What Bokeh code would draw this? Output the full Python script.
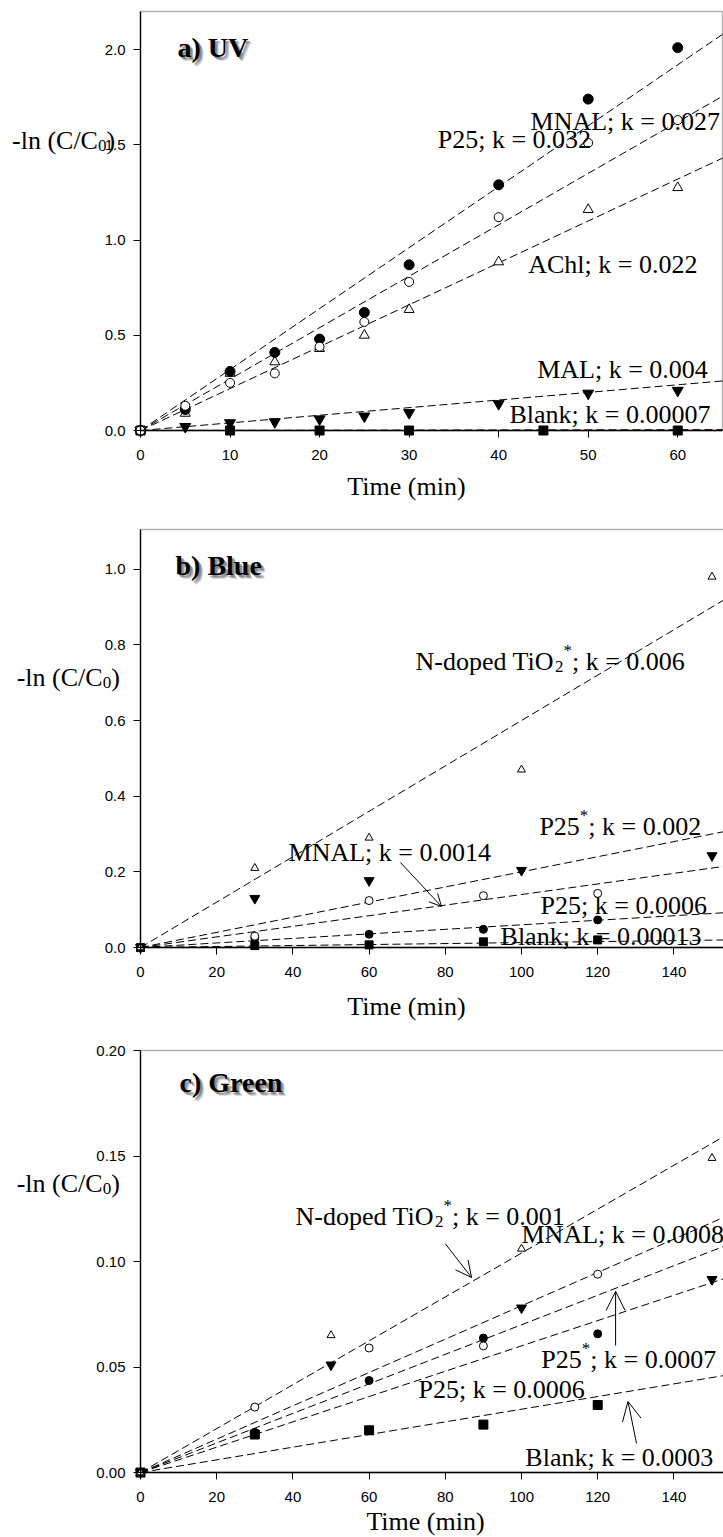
from bokeh.plotting import figure
from bokeh.layouts import column
from bokeh.models import Label, Arrow, OpenHead, FixedTicker, Range1d, BoxAnnotation, PrintfTickFormatter
from bokeh.embed import file_html
from bokeh.resources import INLINE

# ---------------- data ----------------
# panel a) UV
ta = [0, 5, 10, 15, 20, 25, 30, 40, 50, 60]
a_p25 = [0, 0.11, 0.31, 0.41, 0.48, 0.62, 0.87, 1.29, 1.74, 2.01]
a_mnal = [0, 0.13, 0.25, 0.30, 0.44, 0.57, 0.78, 1.12, 1.51, 1.63]
a_achl = [0, 0.09, 0.30, 0.36, 0.43, 0.50, 0.635, 0.885, 1.16, 1.275]
a_mal = [0, 0.02, 0.04, 0.045, 0.06, 0.075, 0.093, 0.14, 0.195, 0.21]
ta_blank = [0, 10, 20, 30, 45, 60]
a_blank = [0, 0, 0, 0, 0, 0]
a_k = {"P25": 0.032, "MNAL": 0.027, "AChl": 0.022, "MAL": 0.004, "Blank": 0.00007}

# panel b) Blue
tb_nd = [0, 30, 60, 100, 150]
b_nd = [0, 0.21, 0.29, 0.47, 0.98]
tb_p25s = [0, 30, 60, 100, 150]
b_p25s = [0, 0.13, 0.177, 0.204, 0.243]
tb_mnal = [0, 30, 60, 90, 120]
b_mnal = [0, 0.03, 0.124, 0.137, 0.143]
tb_p25 = [0, 30, 60, 90, 120]
b_p25 = [0, 0.025, 0.035, 0.048, 0.073]
tb_blank = [0, 30, 60, 90, 120]
b_blank = [0, 0.005, 0.007, 0.015, 0.02]
b_k = {"ND": 0.006, "P25s": 0.002, "MNAL": 0.0014, "P25": 0.0006, "Blank": 0.00013}

# panel c) Green
tc_nd = [0, 50, 100, 150]
c_nd = [0, 0.065, 0.106, 0.149]
tc_p25s = [0, 50, 100, 150]
c_p25s = [0, 0.051, 0.078, 0.0915]
tc_mnal = [0, 30, 60, 90, 120]
c_mnal = [0, 0.031, 0.059, 0.060, 0.094]
tc_p25 = [0, 30, 60, 90, 120]
c_p25 = [0, 0.019, 0.0436, 0.0637, 0.0657]
tc_blank = [0, 30, 60, 90, 120]
c_blank = [0, 0.018, 0.020, 0.0227, 0.032]
c_k = {"ND": 0.00104, "MNAL": 0.00079, "P25s": 0.00070, "P25": 0.00060, "Blank": 0.00030}

x_ticks_a = [0, 10, 20, 30, 40, 50, 60]
x_ticks_bc = [0, 20, 40, 60, 80, 100, 120, 140]
y_ticks_a = [0.0, 0.5, 1.0, 1.5, 2.0]
y_ticks_b = [0.0, 0.2, 0.4, 0.6, 0.8, 1.0]
y_ticks_c = [0.00, 0.05, 0.10, 0.15, 0.20]

# ---------------- helpers ----------------
SERIF = "Liberation Serif"
SANS = "Liberation Sans"
FS = 26
LIFT = 7  # px: raise texts so that their visual centre sits where measured
W = {' ': 0.25, '(': 0.333, ')': 0.333, '*': 0.5, '-': 0.333, '.': 0.25, '/': 0.278, ';': 0.278,
     '=': 0.564, 'A': 0.722, 'B': 0.667, 'C': 0.667, 'L': 0.611, 'M': 0.889, 'N': 0.722, 'O': 0.722,
     'P': 0.556, 'T': 0.611, 'a': 0.444, 'd': 0.5, 'e': 0.444, 'h': 0.5, 'i': 0.278, 'k': 0.5,
     'l': 0.278, 'n': 0.5, 'o': 0.5, 'p': 0.5, 'm': 0.778}


def tw(s, fs):
    return sum(W.get(c, 0.5) for c in s) * fs


def rich(p, x, y, segs, ppy, fs=FS):
    off = 0.0
    for text, kind in segs:
        f = fs if kind == "n" else round(fs * 0.65)
        dy = LIFT + (0 if kind == "n" else (-5 if kind == "sub" else 11))
        p.add_layout(Label(x=x, y=y + dy / ppy, x_offset=off, text=text, text_font=SERIF,
                           text_font_size=f"{f}px", text_baseline="alphabetic",
                           text_align="left", text_color="black"))
        off += tw(text, f)


def title(p, x, y, text, ppy):
    y = y + (LIFT + 1) / ppy
    for dx, dyp, a in [(4, 4, 0.25), (3, 3, 0.45), (2, 2, 0.6)]:
        p.add_layout(Label(x=x, y=y - dyp / ppy, x_offset=dx, text=text, text_font=SERIF,
                           text_font_style="bold", text_font_size="28px",
                           text_baseline="alphabetic", text_color="#707070", text_alpha=a))
    p.add_layout(Label(x=x, y=y, text=text, text_font=SERIF, text_font_style="bold",
                       text_font_size="28px", text_baseline="alphabetic", text_color="black"))


def centered(p, x, y, text, ppy):
    p.add_layout(Label(x=x, y=y + LIFT / ppy, text=text, text_font=SERIF,
                       text_font_size=f"{FS}px", text_baseline="alphabetic",
                       text_align="center", text_color="black"))


def arrow(p, x0, y0, x1, y1, size=16):
    p.add_layout(Arrow(end=OpenHead(size=size, line_width=1, line_color="black"),
                       x_start=x0, y_start=y0, x_end=x1, y_end=y1,
                       line_width=1, line_color="black"))


def make_fig(h, zero_py, ppx, ppy, xmax, ymax, box_right, xticks, yticks, yfmt):
    # the whole canvas is the frame; axes are pinned at the data origin
    x0 = -140 / ppx
    x1 = (723 - 140) / ppx
    y0 = (zero_py - h) / ppy
    y1 = zero_py / ppy
    p = figure(width=723, height=h, output_backend="svg", toolbar_location=None,
               x_range=Range1d(x0, x1), y_range=Range1d(y0, y1),
               min_border_left=0, min_border_right=0, min_border_top=0, min_border_bottom=0)
    p.xgrid.visible = False
    p.ygrid.visible = False
    p.outline_line_color = None
    p.background_fill_color = "white"
    p.border_fill_color = "white"
    p.add_layout(BoxAnnotation(left=0, right=box_right, bottom=0, top=ymax,
                               fill_alpha=0, line_color="black", line_width=1.5))
    for ax in (p.xaxis[0], p.yaxis[0]):
        ax.fixed_location = 0
        ax.axis_line_color = "black"
        ax.axis_line_width = 1.3
        ax.major_tick_in = 0
        ax.major_tick_out = 7
        ax.major_tick_line_color = "black"
        ax.minor_tick_in = 0
        ax.minor_tick_out = 0
        ax.major_label_text_font = SANS
        ax.major_label_text_font_size = "15px"
        ax.major_label_text_color = "black"
    p.xaxis.bounds = (0, xmax)
    p.yaxis.bounds = (0, ymax)
    p.xaxis.ticker = FixedTicker(ticks=xticks)
    p.xaxis.formatter = PrintfTickFormatter(format="%d")
    p.xaxis.major_label_standoff = 12
    p.yaxis.ticker = FixedTicker(ticks=yticks)
    p.yaxis.formatter = PrintfTickFormatter(format=yfmt)
    p.yaxis.major_label_standoff = 8
    return p


def fit(p, k, xend):
    p.line([0, xend], [0, k * xend], line_color="black", line_width=1, line_dash="8 4")


def pts(p, x, y, marker, filled, size):
    p.scatter(x, y, marker=marker, size=size, line_color="black", line_width=1,
              fill_color="black" if filled else "white")


# ---------------- panel a ----------------
PXA, PPA = 582 / 65.0, 419 / 2.2
XA, YA = 65.0, 2.2
pa = make_fig(510, 430, PXA, PPA, XA, YA, XA, x_ticks_a, y_ticks_a, "%.1f")
for k in a_k.values():
    fit(pa, k, XA)
pts(pa, ta_blank, a_blank, "square", True, 9)
pts(pa, ta, a_mal, "inverted_triangle", True, 11)
pts(pa, ta, a_achl, "triangle", False, 10)
pts(pa, ta, a_p25, "circle", True, 10)
pts(pa, ta, a_mnal, "circle", False, 9)
title(pa, 4.13, 1.969, "a) UV", PPA)
rich(pa, -14.35, 1.488, [("-ln (C/C", "n"), ("0", "sub"), (")", "n")], PPA)
rich(pa, 33.2, 1.491, [("P25; k = 0.032", "n")], PPA)
rich(pa, 43.56, 1.586, [("MNAL; k = 0.027", "n")], PPA)
rich(pa, 43.3, 0.835, [("AChl; k = 0.022", "n")], PPA)
rich(pa, 44.3, 0.283, [("MAL; k = 0.004", "n")], PPA)
rich(pa, 41.2, 0.047, [("Blank; k = 0.00007", "n")], PPA)
centered(pa, 29.7, -0.331, "Time (min)", PPA)

# ---------------- panel b ----------------
PXB, PPB = 3.81, 418 / 1.105
XB, YB = 583 / 3.81, 1.105
pb = make_fig(520, 437, PXB, PPB, XB + 1, YB, 400, x_ticks_bc, y_ticks_b, "%.1f")
for k in b_k.values():
    fit(pb, k, XB + 1)
pts(pb, tb_blank, b_blank, "square", True, 8)
pts(pb, tb_p25, b_p25, "circle", True, 8)
pts(pb, tb_mnal, b_mnal, "circle", False, 8)
pts(pb, tb_p25s, b_p25s, "inverted_triangle", True, 10)
pts(pb, tb_nd, b_nd, "triangle", False, 8)
title(pb, 9.19, 0.989, "b) Blue", PPB)
rich(pb, -32.5, 0.696, [("-ln (C/C", "n"), ("0", "sub"), (")", "n")], PPB)
rich(pb, 72.2, 0.738, [("N-doped TiO", "n"), ("2", "sub"), ("*", "sup"), ("; k = 0.006", "n")], PPB)
rich(pb, 104.7, 0.3016, [("P25", "n"), ("*", "sup"), ("; k = 0.002", "n")], PPB)
rich(pb, 38.85, 0.233, [("MNAL; k = 0.0014", "n")], PPB)
arrow(pb, 68.2, 0.2249, 79.0, 0.1085, 12)
rich(pb, 105.0, 0.0926, [("P25; k = 0.0006", "n")], PPB)
rich(pb, 94.5, 0.0106, [("Blank; k = 0.00013", "n")], PPB)
centered(pb, 69.8, -0.1745, "Time (min)", PPB)

# ---------------- panel c ----------------
PXC, PPC = 3.81, 422 / 0.20
XC, YC = 583 / 3.81, 0.20
pc = make_fig(507, 442, PXC, PPC, XC + 1, YC, 400, x_ticks_bc, y_ticks_c, "%.2f")
for k in c_k.values():
    fit(pc, k, XC + 1)
pts(pc, tc_blank, c_blank, "square", True, 9)
pts(pc, tc_p25, c_p25, "circle", True, 8)
pts(pc, tc_mnal, c_mnal, "circle", False, 8)
pts(pc, tc_p25s, c_p25s, "inverted_triangle", True, 10)
pts(pc, tc_nd, c_nd, "triangle", False, 8)
title(pc, 10.24, 0.181, "c) Green", PPC)
rich(pc, -32.5, 0.1336, [("-ln (C/C", "n"), ("0", "sub"), (")", "n")], PPC)
rich(pc, 40.7, 0.118, [("N-doped TiO", "n"), ("2", "sub"), ("*", "sup"), ("; k = 0.001", "n")], PPC)
arrow(pc, 79.97, 0.1085, 86.9, 0.0924, 16)
rich(pc, 100.0, 0.1095, [("MNAL; k = 0.0008", "n")], PPC)
rich(pc, 105.2, 0.0502, [("P25", "n"), ("*", "sup"), ("; k = 0.0007", "n")], PPC)
arrow(pc, 124.7, 0.0602, 124.7, 0.0858, 19)
rich(pc, 72.97, 0.036, [("P25; k = 0.0006", "n")], PPC)
rich(pc, 101.0, 0.0038, [("Blank; k = 0.0003", "n")], PPC)
arrow(pc, 130.2, 0.01374, 127.95, 0.03365, 19)
centered(pc, 74.8, -0.0265, "Time (min)", PPC)

layout = column(pa, pb, pc, spacing=0)
open("out.html", "w").write(file_html(layout, INLINE))
